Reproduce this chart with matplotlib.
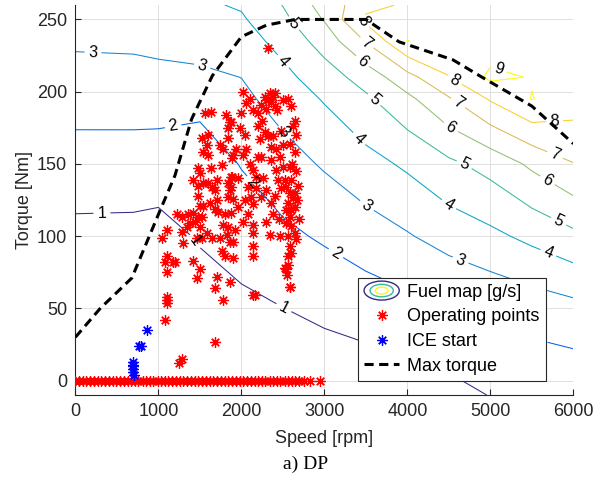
import numpy as np
import matplotlib
matplotlib.use('Agg')
import matplotlib.pyplot as plt
from matplotlib.lines import Line2D
from matplotlib.patches import Ellipse
from matplotlib.legend_handler import HandlerBase

plt.rcParams['font.family'] = ['Liberation Sans', 'DejaVu Sans']

# fuel map [g/s]: rows = torque, columns = speed
map_speed = [0, 700, 1000, 1500, 2000, 2500, 3000, 3500, 4000, 4500, 5000, 5500, 6000]
map_torque = [-10, 50, 100, 150, 195, 210, 235, 250, 260]
fuel = [
    [0.10, 0.15, 0.20, 0.25, 0.30, 0.45, 0.30, 0.30, 0.46, 0.69, 1.03, 1.15, 1.20],
    [0.40, 0.45, 0.40, 0.52, 0.79, 0.99, 1.21, 1.46, 1.69, 1.91, 2.20, 2.45, 2.70],
    [0.74, 0.72, 0.65, 1.09, 1.41, 1.79, 2.13, 2.51, 2.92, 3.40, 3.77, 4.25, 4.77],
    [1.58, 1.57, 1.53, 1.45, 2.05, 2.59, 3.11, 3.66, 4.16, 4.80, 5.35, 6.19, 6.97],
    [2.38, 2.39, 2.40, 2.30, 2.77, 3.41, 4.08, 4.83, 5.76, 6.90, 8.10, 9.03, 8.50],
    [2.66, 2.68, 2.73, 2.80, 3.01, 3.72, 4.53, 5.41, 6.65, 7.97, 9.20, 8.95, 8.60],
    [3.14, 3.18, 3.27, 3.39, 3.55, 4.33, 5.41, 7.06, 9.02, 8.60, 8.50, 8.70, 8.70],
    [3.41, 3.48, 3.59, 3.72, 3.88, 4.75, 6.07, 8.24, 8.70, 8.60, 8.60, 8.60, 8.70],
    [3.59, 3.68, 3.81, 3.85, 4.10, 5.03, 6.41, 7.60, 8.18, 8.50, 8.50, 8.60, 8.70],
]
levels = [1, 2, 3, 4, 5, 6, 7, 8, 9]
level_colors = ['#352a87', '#0363e1', '#1485d4', '#06a7c6', '#38b99e',
                '#92bf73', '#d9ba56', '#fcce2e', '#f9fb0e']

# where the contour labels sit
label_pos = [(320, 115), (1410, 95), (2500, 49),
             (1175, 177), (2110, 136), (3127, 87), (5609, 32),
             (211, 226), (1524, 217), (2520, 172), (3512, 121), (4632, 82),
             (2524, 222), (3428, 168), (4488, 121), (5681, 86),
             (2645, 248), (3608, 195), (4669, 148), (5813, 109),
             (3488, 223), (4548, 178), (5693, 139),
             (3512, 234), (4608, 192), (5777, 156),
             (3464, 249), (4548, 206), (5777, 177),
             (5090, 214)]

# max torque curve
mt_speed = [0, 300, 680, 1000, 1200, 1400, 1650, 2000, 2300, 2650, 3500, 3900, 4550, 4900, 5500, 6000]
mt_torque = [30, 50, 71, 115, 142, 181, 211, 238, 246, 250, 250, 234.5, 222, 210, 190, 164]

# operating points (cloud)
op_speed = [1560, 1633, 1813, 1862, 1838, 1838, 1597, 1524, 1585, 1536, 1597, 1741, 1777, 1765, 1886,
            1476, 1500, 1633, 1886, 1838, 1862, 1838, 1416, 1476, 1536, 1597, 1645, 1705, 1681,
            1476, 1500, 1536, 1621, 1681, 1705, 1717, 1223, 1283, 1355, 1416, 1476, 1524, 1440,
            1380, 1343, 1500, 1801, 1777, 1838, 1825, 1862, 1741, 1645, 1585, 1524, 1464, 1283,
            1295, 1042, 1102, 1102, 1078, 1175, 1102, 1416, 1500, 1464, 1705, 1681, 1777, 1862,
            1765, 1801, 1102, 1102, 1078, 1681,
            1199, 1898, 2139, 2139, 1280, 1247, 2524, 2545, 2585, 2561, 1099,
            2320, 2018, 2099, 2139, 2199, 2235, 2280, 2340, 2400, 2356, 2500, 2428, 2055, 2320,
            2039, 2280, 2219, 2320, 2380, 2476, 2500, 2580, 2641, 1874, 1898, 2018, 2199, 2235,
            2356, 2461, 2416, 2500, 2580, 2440, 2521, 2597, 2537, 2476, 2580, 2621, 2561, 2641,
            2139, 2175, 2079, 2175, 2235, 2115, 2039, 2139, 2356, 1874, 1874, 1898, 1874, 1918,
            1898, 2139, 2139, 2139, 2340, 2461, 2537, 2580, 2537, 2597, 2561, 2641, 2580, 2597,
            2561, 2537, 2580, 2159,
            2660, 2680, 2670, 2690, 2660, 2650, 2600, 2560, 2620, 2660, 2650, 2610, 2600,
            2380, 2410, 2300, 2250, 2200, 1980, 2000, 2060, 2100, 2080, 2020, 1960, 1960, 1940,
            2260, 2300, 2400, 2380, 2300, 2450, 2420, 2360]
op_torque = [185, 186, 184, 179, 175, 168, 170, 168, 163, 158, 156, 163, 160, 149, 154,
             147, 144, 147, 141, 137, 132, 127, 139, 135, 137, 137, 134, 139, 132,
             128, 121, 121, 123, 119, 125, 117, 115, 113, 115, 116, 113, 113, 110,
             109, 106, 106, 115, 108, 106, 101, 96, 99, 99, 102, 99, 99, 103,
             95, 99, 104, 86, 82, 82, 75, 83, 77, 71, 72, 64, 56, 68,
             90, 86, 58, 54, 42, 27,
             82, 85, 86, 59, 15, 12, 78, 73, 65, 86, 56,
             230, 200, 195, 187, 185, 191, 196, 199, 199, 193, 194, 187, 192, 194,
             170, 172, 167, 169, 169, 173, 163, 164, 158, 179, 156, 156, 155, 155,
             153, 155, 146, 148, 148, 139, 139, 139, 134, 133, 130, 127, 123, 120,
             146, 141, 134, 133, 127, 127, 125, 122, 123, 141, 134, 126, 116, 104,
             96, 108, 102, 93, 101, 100, 118, 113, 109, 107, 100, 102, 93, 88,
             80, 77, 65, 59,
             145, 135, 125, 112, 170, 180, 190, 195, 176, 98, 130, 150, 118,
             196, 190, 188, 180, 176, 175, 185, 160, 150, 115, 110, 120, 140, 160,
             140, 132, 128, 115, 110, 112, 160, 162]

# operating points at zero torque
zero_speed = [0, 40, 90, 130, 180, 220, 270, 310, 360, 400, 450, 490, 540, 580, 630, 670, 720,
              760, 810, 850, 900, 940, 990, 1030, 1080, 1120, 1170, 1210, 1260, 1300, 1350,
              1390, 1440, 1480, 1530, 1570, 1620, 1660, 1710, 1750, 1800, 1840, 1890, 1930,
              1980, 2020, 2070, 2110, 2160, 2200, 2250, 2290, 2340, 2380, 2430, 2470, 2520,
              2560, 2610, 2650, 2700, 2760, 2830, 2950]

# ICE start points
start_speed = [690, 695, 700, 700, 705, 700, 770, 785, 860]
start_torque = [13, 10, 8, 6, 4, 11, 24, 24, 35]

txt = '#262626'
ast = (8, 2, 0)
ms = 7.5

fig = plt.figure(figsize=(6.08, 5.0), dpi=100)
ax = fig.add_axes([0.124, 0.21, 0.819, 0.78])

cs = ax.contour(map_speed, map_torque, np.array(fuel), levels=levels,
                colors=level_colors, linewidths=0.75, zorder=2)
ax.clabel(cs, levels, inline=True, inline_spacing=4, fontsize=11.5, fmt='%d',
          colors='k', manual=label_pos)

ax.plot(zero_speed, np.zeros(len(zero_speed)), ls='none', marker=ast, ms=ms, mew=0.9,
        color='red', zorder=3)
ax.plot(op_speed, op_torque, ls='none', marker=ast, ms=ms, mew=0.9, color='red', zorder=3)
ax.plot(start_speed, start_torque, ls='none', marker=ast, ms=ms, mew=0.9, color='blue', zorder=4)
ax.plot(mt_speed, mt_torque, color='k', lw=2.2, dashes=(3, 1.8), zorder=5)

ax.set_xlim(0, 6000)
ax.set_ylim(-10, 260)
ax.set_xticks([0, 1000, 2000, 3000, 4000, 5000, 6000])
ax.set_yticks([0, 50, 100, 150, 200, 250])
ax.grid(True, color='#dedede', lw=0.7)
ax.set_axisbelow(True)
for s in ['top', 'right']:
    ax.spines[s].set_visible(False)
for s in ['left', 'bottom']:
    ax.spines[s].set_color(txt)
    ax.spines[s].set_linewidth(0.8)
ax.tick_params(direction='in', length=4, labelsize=13, colors=txt, pad=6)
ax.set_xlabel('Speed [rpm]', fontsize=13, color=txt, labelpad=7)
ax.set_ylabel('Torque [Nm]', fontsize=13, color=txt, labelpad=3)


class HandlerFuel(HandlerBase):
    def create_artists(self, legend, orig_handle, xdescent, ydescent, width, height, fontsize, trans):
        cx = width / 2 - xdescent
        cy = height / 2 - ydescent
        arts = []
        for f, c in zip([1.0, 0.66, 0.36], ['#352a87', '#38b99e', '#f9fb0e']):
            arts.append(Ellipse((cx, cy), width * f, height * 1.5 * f, fill=False,
                                edgecolor=c, lw=1.0, transform=trans))
        return arts


fuel_handle = Line2D([], [])
h_op = Line2D([], [], ls='none', marker=ast, ms=ms, mew=0.9, color='red')
h_st = Line2D([], [], ls='none', marker=ast, ms=ms, mew=0.9, color='blue')
h_mt = Line2D([], [], color='k', lw=2.2, dashes=(3, 1.8))
leg = ax.legend([fuel_handle, h_op, h_st, h_mt],
                ['Fuel map [g/s]', 'Operating points', 'ICE start', 'Max torque'],
                handler_map={fuel_handle: HandlerFuel()},
                loc='lower left', bbox_to_anchor=(0.567, 0.036), fontsize=13,
                handlelength=1.95, labelspacing=0.42, borderpad=0.35, handletextpad=0.45,
                borderaxespad=0, fancybox=False, framealpha=1, edgecolor=txt)
leg.get_frame().set_linewidth(0.8)
for t in leg.get_texts():
    t.set_color('k')

fig.text(0.502, 0.072, 'a) DP', ha='center', va='center', fontsize=14,
         family=['Liberation Serif', 'DejaVu Serif'], color='k')

fig.savefig('out.png', dpi=100)
